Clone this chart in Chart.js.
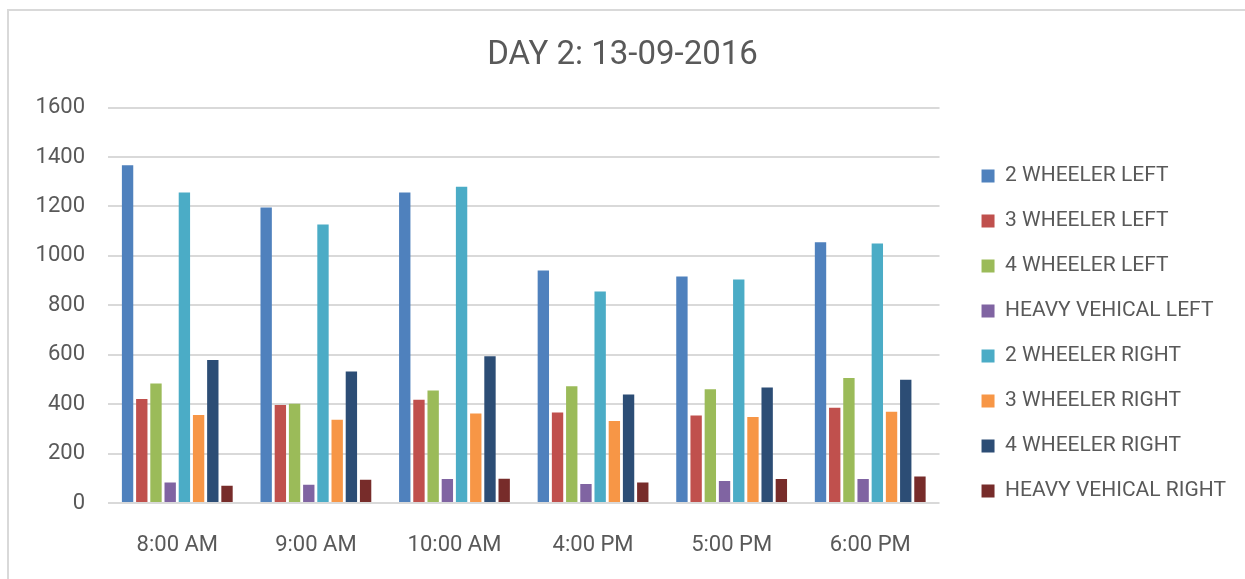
<!DOCTYPE html>
<html>
<head>
<meta charset="utf-8">
<script src="https://cdn.jsdelivr.net/npm/chart.js@4.4.1/dist/chart.umd.min.js"></script>
<style>
    html, body { margin: 0; padding: 0; background: #fff; }
    #frame {
        position: absolute;
        left: 7px;
        top: 9px;
        width: 1238px;
        height: 570px;
        border-left: 2px solid #d9d9d9;
        border-top: 2px solid #d9d9d9;
    }
    #day2 { display: block; }
</style>
</head>
<body>
<div id="frame">
    <canvas id="day2" width="1236" height="568"></canvas>
</div>
<script>
    const timeSlots = ['8:00 AM', '9:00 AM', '10:00 AM', '4:00 PM', '5:00 PM', '6:00 PM'];

    const twoWheelerLeft = [1367, 1196, 1256, 941, 917, 1055];
    const threeWheelerLeft = [421, 397, 418, 366, 354, 385];
    const fourWheelerLeft = [484, 402, 455, 472, 460, 506];
    const heavyLeft = [83, 74, 97, 77, 89, 97];
    const twoWheelerRight = [1256, 1127, 1280, 856, 904, 1050];
    const threeWheelerRight = [356, 337, 362, 332, 348, 369];
    const fourWheelerRight = [579, 532, 594, 439, 467, 499];
    const heavyRight = [70, 94, 98, 83, 97, 107];

    const yTicks = [0, 200, 400, 600, 800, 1000, 1200, 1400, 1600];

    const txt = '#595959';
    const fam = 'Roboto, "Liberation Sans", sans-serif';

    const ctx = document.getElementById('day2');
    new Chart(ctx, {
        type: 'bar',
        data: {
            labels: timeSlots,
            datasets: [
                { label: '2 WHEELER LEFT', data: twoWheelerLeft, backgroundColor: '#4F81BD' },
                { label: '3 WHEELER LEFT', data: threeWheelerLeft, backgroundColor: '#C0504D' },
                { label: '4 WHEELER LEFT', data: fourWheelerLeft, backgroundColor: '#9BBB59' },
                { label: 'HEAVY VEHICAL LEFT', data: heavyLeft, backgroundColor: '#8064A2' },
                { label: '2 WHEELER RIGHT', data: twoWheelerRight, backgroundColor: '#4BACC6' },
                { label: '3 WHEELER RIGHT', data: threeWheelerRight, backgroundColor: '#F79646' },
                { label: '4 WHEELER RIGHT', data: fourWheelerRight, backgroundColor: '#2C4D75' },
                { label: 'HEAVY VEHICAL RIGHT', data: heavyRight, backgroundColor: '#772C2A' }
            ]
        },
        options: {
            responsive: false,
            animation: false,
            devicePixelRatio: 1,
            categoryPercentage: 0.82,
            barPercentage: 0.8,
            layout: { padding: { left: 0, right: 9, top: 0, bottom: 0 } },
            plugins: {
                tooltip: { enabled: false },
                title: {
                    display: true,
                    text: 'DAY 2: 13-09-2016',
                    color: txt,
                    font: { family: fam, size: 33, weight: 'normal' },
                    padding: { top: 25, bottom: 32 }
                },
                legend: {
                    position: 'right',
                    align: 'start',
                    maxWidth: 320,
                    // empty title only pushes the legend column down
                    title: { display: true, text: '', padding: { top: 116, bottom: 0 } },
                    labels: {
                        color: txt,
                        font: { family: fam, size: 21 },
                        boxWidth: 13,
                        boxHeight: 13,
                        padding: 24
                    }
                }
            },
            scales: {
                x: {
                    grid: { display: false },
                    border: { display: false },
                    ticks: { color: txt, font: { family: fam, size: 22 }, padding: 21 },
                    afterFit: s => { s.height = 76; }
                },
                y: {
                    min: 0,
                    max: 1600,
                    afterBuildTicks: s => { s.ticks = yTicks.map(v => ({ value: v })); },
                    grid: { color: '#d9d9d9', lineWidth: 2, drawTicks: false },
                    border: { display: false },
                    ticks: { color: txt, font: { family: fam, size: 22 }, padding: 23, callback: v => String(v) },
                    afterFit: s => { s.width = 99; }
                },
                // blank axis: keeps the gap between plot and legend
                gap: {
                    type: 'linear',
                    position: 'right',
                    grid: { display: false },
                    border: { display: false },
                    ticks: { display: false },
                    afterFit: s => { s.width = 18; }
                }
            }
        }
    });
</script>
</body>
</html>
